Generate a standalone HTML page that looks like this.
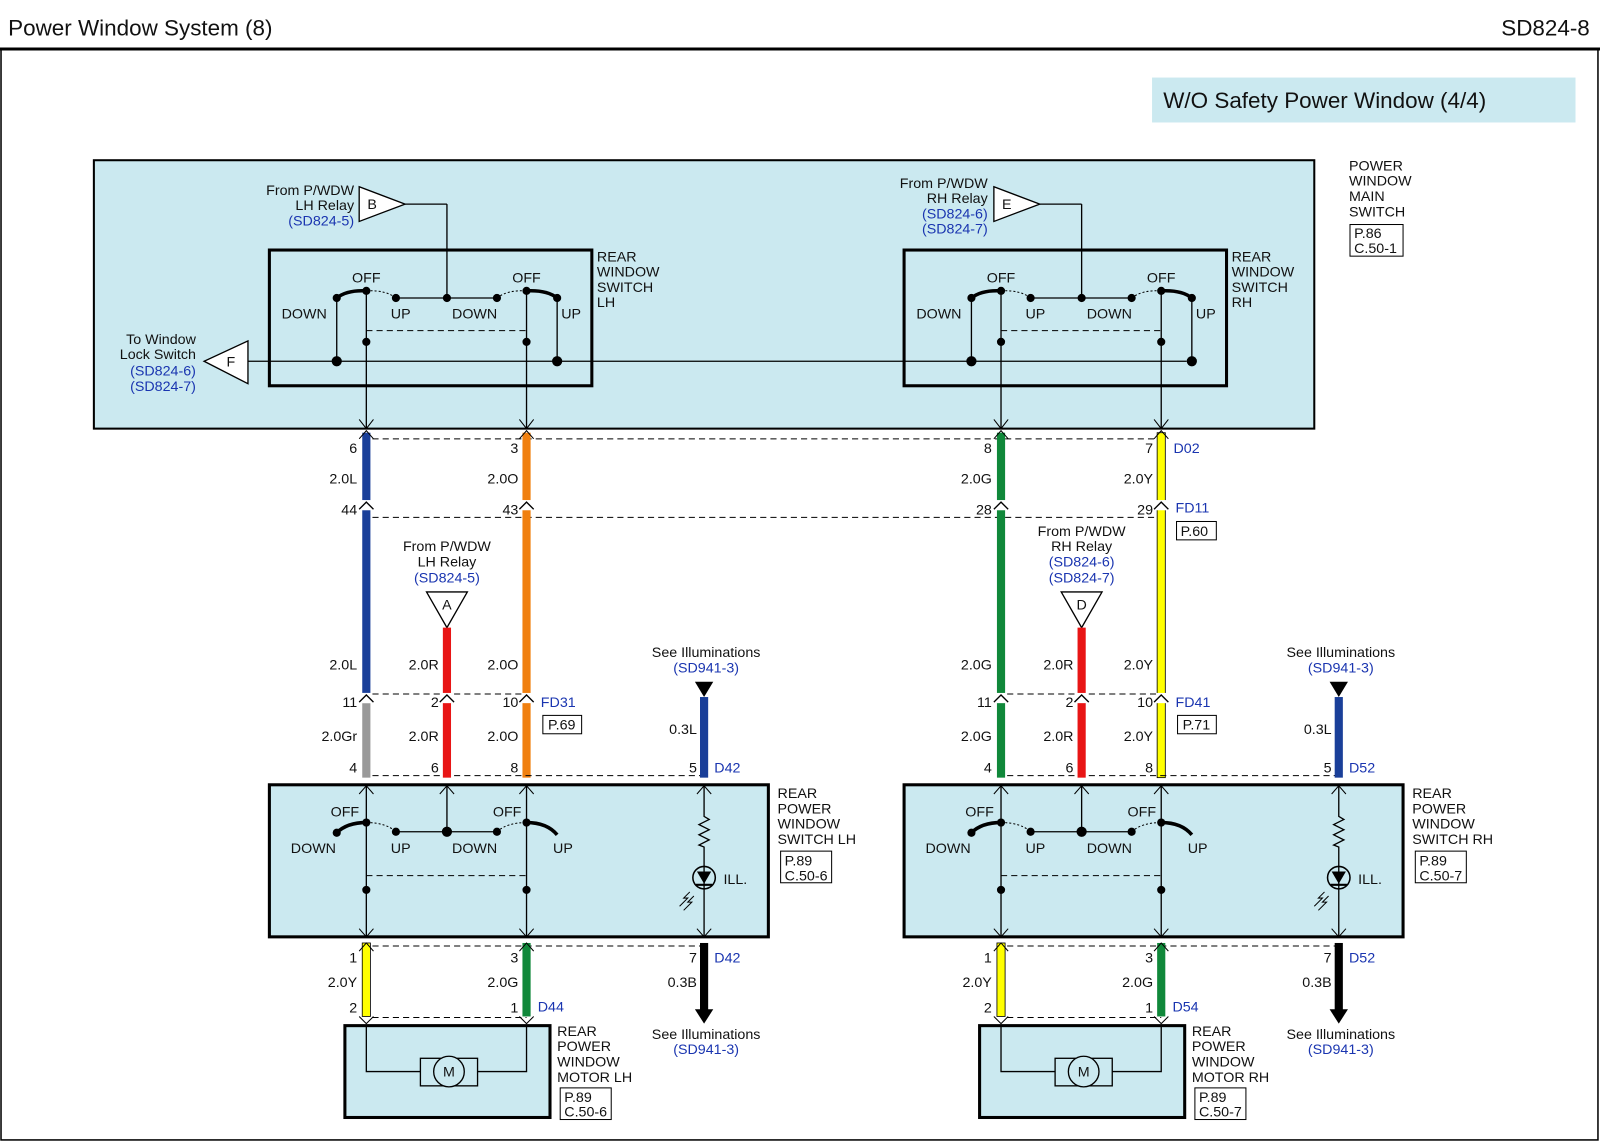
<!DOCTYPE html>
<html><head><meta charset="utf-8"><style>
html,body{margin:0;padding:0;background:#fff}
svg{display:block}
text{font-family:"Liberation Sans",sans-serif;font-size:14px;fill:#111}
.b{fill:#1a35b0}
.r{text-anchor:end}
.c{text-anchor:middle}
</style></head><body>
<svg width="1600" height="1143" viewBox="0 0 1568 1120" preserveAspectRatio="none" xmlns="http://www.w3.org/2000/svg">
<defs>
<g id="chev"><rect x="-5" y="-3" width="10" height="10" fill="#fff"/><polyline points="-7,6 0,-1 7,6" fill="none" stroke="#000" stroke-width="1.3"/></g>
<g id="common">
 <rect x="264" y="245" width="316" height="133" fill="none" stroke="#000" stroke-width="3"/>
 <line x1="438" y1="200" x2="438" y2="292" stroke="#000" stroke-width="1.3"/>
 <path d="M330,292 Q340,284 359,285" fill="none" stroke="#000" stroke-width="3.5"/>
 <path d="M546,292 Q536,284 516,285" fill="none" stroke="#000" stroke-width="3.5"/>
 <path d="M359,285 Q378,284 388,292 M487,292 Q497,284 516,285" fill="none" stroke="#000" stroke-dasharray="2,2"/>
 <line x1="388" y1="292" x2="487" y2="292" stroke="#000" stroke-width="1.3"/>
 <line x1="330" y1="292" x2="330" y2="354" stroke="#000" stroke-width="1.3"/>
 <line x1="546" y1="292" x2="546" y2="354" stroke="#000" stroke-width="1.3"/>
 <line x1="359" y1="324" x2="516" y2="324" stroke="#000" stroke-dasharray="6,4"/>
 <line x1="359" y1="285" x2="359" y2="420" stroke="#000" stroke-width="1.3"/>
 <line x1="516" y1="285" x2="516" y2="420" stroke="#000" stroke-width="1.3"/>
 <g fill="#000"><circle cx="330" cy="292" r="4"/><circle cx="359" cy="285" r="4"/><circle cx="388" cy="292" r="4"/><circle cx="438" cy="292" r="4"/><circle cx="487" cy="292" r="4"/><circle cx="516" cy="285" r="4"/><circle cx="546" cy="292" r="4"/><circle cx="330" cy="354" r="5"/><circle cx="546" cy="354" r="5"/><circle cx="359" cy="335" r="4"/><circle cx="516" cy="335" r="4"/></g>
 <polyline points="352,411 359,420 366,411" fill="none" stroke="#000"/><polyline points="509,411 516,420 523,411" fill="none" stroke="#000"/>
 <text x="345" y="277">OFF</text><text x="502" y="277">OFF</text>
 <text x="276" y="312">DOWN</text><text x="383" y="312">UP</text><text x="443" y="312">DOWN</text><text x="550" y="312">UP</text>
 <line x1="365" y1="680" x2="516" y2="680" stroke="#000" stroke-dasharray="6,4"/>
 <line x1="365" y1="760" x2="690" y2="760" stroke="#000" stroke-dasharray="6,4"/>
 <rect x="264" y="769" width="489" height="149" fill="#cbe9f0" stroke="#000" stroke-width="3"/>
 <path d="M330,816 Q340,806 359,806" fill="none" stroke="#000" stroke-width="3.5"/>
 <path d="M546,818 Q536,806 516,806" fill="none" stroke="#000" stroke-width="3.5"/>
 <path d="M359,806 Q378,806 388,815 M487,815 Q497,806 516,806" fill="none" stroke="#000" stroke-dasharray="2,2"/>
 <line x1="388" y1="815" x2="487" y2="815" stroke="#000" stroke-width="1.3"/>
 <line x1="438" y1="769" x2="438" y2="815" stroke="#000" stroke-width="1.3"/>
 <line x1="359" y1="858" x2="516" y2="858" stroke="#000" stroke-dasharray="6,4"/>
 <line x1="359" y1="769" x2="359" y2="918" stroke="#000" stroke-width="1.3"/>
 <line x1="516" y1="769" x2="516" y2="918" stroke="#000" stroke-width="1.3"/>
 <g fill="#000"><circle cx="330" cy="816" r="4"/><circle cx="359" cy="806" r="4"/><circle cx="388" cy="815" r="4"/><circle cx="438" cy="815" r="5"/><circle cx="487" cy="815" r="4"/><circle cx="516" cy="806" r="4"/><circle cx="359" cy="872" r="4"/><circle cx="516" cy="872" r="4"/></g>
 <text x="324" y="800">OFF</text><text x="483" y="800">OFF</text>
 <text x="285" y="836">DOWN</text><text x="383" y="836">UP</text><text x="443" y="836">DOWN</text><text x="542" y="836">UP</text>
 <g fill="none" stroke="#000"><polyline points="352,778 359,770 366,778"/><polyline points="431,778 438,770 445,778"/><polyline points="509,778 516,770 523,778"/><polyline points="683,778 690,770 697,778"/>
 <polyline points="352,910 359,918 366,910"/><polyline points="509,910 516,918 523,910"/><polyline points="683,910 690,918 697,910"/></g>
 <polyline points="690,769 690,800 695,803 685,808 695,813 685,818 695,823 685,828 690,830 690,918" fill="none" stroke="#000" stroke-width="1.3"/>
 <circle cx="690" cy="860" r="11" fill="none" stroke="#000" stroke-width="1.5"/>
 <polygon points="683,854 697,854 690,866" fill="#000"/><line x1="682" y1="867" x2="698" y2="867" stroke="#000" stroke-width="2"/>
 <text x="709" y="866">ILL.</text>
 <path d="M676,874 L670,880 L674,880 L666,888 M680,878 L674,884 L678,884 L670,892" fill="none" stroke="#000"/>
 <line x1="365" y1="927" x2="690" y2="927" stroke="#000" stroke-dasharray="6,4"/>
 <line x1="365" y1="997" x2="516" y2="997" stroke="#000" stroke-dasharray="6,4"/>
 <rect x="355" y="924" width="8" height="72" fill="#ffff00" stroke="#000" stroke-width="0.8"/>
 <rect x="512" y="924" width="8" height="72" fill="#10883a"/>
 <rect x="686" y="924" width="8" height="66" fill="#000"/>
 <polygon points="681,989 699,989 690,1003" fill="#000"/>
 <g fill="none" stroke="#000"><polyline points="352,932 359,924 366,932"/><polyline points="509,932 516,924 523,932"/><polyline points="352,996 359,1003 366,996"/><polyline points="509,996 516,1003 523,996"/></g>
 <rect x="338" y="1005" width="201" height="90" fill="#cbe9f0" stroke="#000" stroke-width="3"/>
 <polyline points="359,1005 359,1050 412,1050" fill="none" stroke="#000" stroke-width="1.3"/>
 <polyline points="468,1050 516,1050 516,1005" fill="none" stroke="#000" stroke-width="1.3"/>
 <rect x="412" y="1037" width="56" height="27" fill="none" stroke="#000" stroke-width="1.3"/>
 <circle cx="440" cy="1050" r="15" fill="#cbe9f0" stroke="#000" stroke-width="1.3"/>
 <text x="440" y="1055" class="c">M</text>
 <text x="692" y="644" class="c">See Illuminations</text><text x="692" y="659" class="c b">(SD941-3)</text>
 <polygon points="681,668 699,668 690,683" fill="#000"/>
 <rect x="686" y="683" width="8" height="79" fill="#1a3f99"/>
 <text x="683" y="719" class="r">0.3L</text>
 <text x="683" y="757" class="r">5</text>
 <text x="683" y="943" class="r">7</text><text x="683" y="967" class="r">0.3B</text>
 <text x="692" y="1018" class="c">See Illuminations</text><text x="692" y="1033" class="c b">(SD941-3)</text>
 <text x="350" y="943" class="r">1</text><text x="350" y="967" class="r">2.0Y</text><text x="350" y="992" class="r">2</text>
 <text x="508" y="943" class="r">3</text><text x="508" y="967" class="r">2.0G</text><text x="508" y="992" class="r">1</text>
 <text x="546" y="1015">REAR</text><text x="546" y="1030">POWER</text><text x="546" y="1045">WINDOW</text>
 <rect x="549" y="1066" width="50" height="31" fill="#fff" stroke="#000"/>
 <text x="762" y="782">REAR</text><text x="762" y="797">POWER</text><text x="762" y="812">WINDOW</text>
 <rect x="765" y="834" width="50" height="31" fill="#fff" stroke="#000"/>
 <text x="769" y="848">P.89</text>
 <text x="553" y="1080">P.89</text>
 <text x="585" y="256">REAR</text><text x="585" y="271">WINDOW</text><text x="585" y="286">SWITCH</text>
 <text x="430" y="656" class="r">2.0R</text>
 <text x="350" y="693" class="r">11</text><text x="430" y="693" class="r">2</text><text x="508" y="693" class="r">10</text>
 <text x="430" y="726" class="r">2.0R</text>
 <text x="350" y="757" class="r">4</text><text x="430" y="757" class="r">6</text><text x="508" y="757" class="r">8</text>
 <rect x="532" y="701" width="38" height="18" fill="#fff" stroke="#000"/>
 <polygon points="418,580 458,580 438,615" fill="#fff" stroke="#000" stroke-width="1.3"/>
 <rect x="434" y="615" width="8" height="147" fill="#e81515"/>
 <use href="#chev" x="438" y="682"/>
</g>
</defs>

<rect x="1" y="48" width="1565" height="1069" fill="none" stroke="#000" stroke-width="1.5"/>
<line x1="0" y1="48" x2="1568" y2="48" stroke="#000" stroke-width="3"/>
<text x="8" y="35" style="font-size:22px">Power Window System (8)</text>
<text x="1558" y="35" class="r" style="font-size:22px">SD824-8</text>
<rect x="1129" y="76" width="415" height="44" fill="#cbe9f0"/>
<text x="1140" y="106" style="font-size:22px">W/O Safety Power Window (4/4)</text>

<rect x="92" y="157" width="1196" height="263" fill="#cbe9f0" stroke="#000" stroke-width="2"/>
<line x1="243" y1="354" x2="1163" y2="354" stroke="#000" stroke-width="1.3"/>
<polygon points="243,334 243,376 200,354" fill="#fff" stroke="#000" stroke-width="1.3"/><text x="222" y="359">F</text>
<text x="192" y="337" class="r">To Window</text><text x="192" y="352" class="r">Lock Switch</text><text x="192" y="368" class="r b">(SD824-6)</text><text x="192" y="383" class="r b">(SD824-7)</text>
<polygon points="352,183 352,217 397,200" fill="#fff" stroke="#000" stroke-width="1.3"/><text x="360" y="205">B</text>
<line x1="397" y1="200" x2="438" y2="200" stroke="#000" stroke-width="1.3"/>
<text x="347" y="191" class="r">From P/WDW</text><text x="347" y="206" class="r">LH Relay</text><text x="347" y="221" class="r b">(SD824-5)</text>
<polygon points="974,183 974,217 1019,200" fill="#fff" stroke="#000" stroke-width="1.3"/><text x="982" y="205">E</text>
<line x1="1019" y1="200" x2="1060" y2="200" stroke="#000" stroke-width="1.3"/>
<text x="968" y="184" class="r">From P/WDW</text><text x="968" y="199" class="r">RH Relay</text><text x="968" y="214" class="r b">(SD824-6)</text><text x="968" y="229" class="r b">(SD824-7)</text>
<text x="1322" y="167">POWER</text><text x="1322" y="182">WINDOW</text><text x="1322" y="197">MAIN</text><text x="1322" y="212">SWITCH</text>
<rect x="1323" y="220" width="52" height="31" fill="#fff" stroke="#000"/><text x="1327" y="233">P.86</text><text x="1327" y="248">C.50-1</text>

<line x1="365" y1="430" x2="1138" y2="430" stroke="#000" stroke-dasharray="6,4"/>
<line x1="365" y1="507" x2="1138" y2="507" stroke="#000" stroke-dasharray="6,4"/>

<rect x="355" y="424" width="8" height="255" fill="#1a3f99"/>
<rect x="355" y="689" width="8" height="73" fill="#999"/>
<rect x="512" y="424" width="8" height="338" fill="#f08010"/>
<rect x="977" y="424" width="8" height="338" fill="#10883a"/>
<rect x="1134" y="424" width="8" height="338" fill="#ffff00" stroke="#000" stroke-width="0.8"/>
<use href="#chev" x="359" y="493"/><use href="#chev" x="516" y="493"/><use href="#chev" x="981" y="493"/><use href="#chev" x="1138" y="493"/>
<g fill="none" stroke="#000"><polyline points="352,430 359,422 366,430"/><polyline points="509,430 516,422 523,430"/><polyline points="974,430 981,422 988,430"/><polyline points="1131,430 1138,422 1145,430"/></g>

<use href="#common"/>
<use href="#common" x="622"/>
<use href="#chev" x="359" y="682"/><use href="#chev" x="516" y="682"/><use href="#chev" x="981" y="682"/><use href="#chev" x="1138" y="682"/>

<!-- LH -->
<text x="350" y="444" class="r">6</text><text x="350" y="474" class="r">2.0L</text><text x="350" y="504" class="r">44</text>
<text x="508" y="444" class="r">3</text><text x="508" y="474" class="r">2.0O</text><text x="508" y="504" class="r">43</text>
<text x="350" y="656" class="r">2.0L</text><text x="508" y="656" class="r">2.0O</text>
<text x="350" y="726" class="r">2.0Gr</text><text x="508" y="726" class="r">2.0O</text>
<text x="585" y="301">LH</text>
<text x="438" y="540" class="c">From P/WDW</text><text x="438" y="555" class="c">LH Relay</text><text x="438" y="571" class="c b">(SD824-5)</text>
<text x="438" y="597" class="c">A</text>
<text x="530" y="693" class="b">FD31</text><text x="537" y="715">P.69</text>
<text x="700" y="757" class="b">D42</text><text x="700" y="943" class="b">D42</text>
<text x="527" y="991" class="b">D44</text>
<text x="762" y="827">SWITCH LH</text><text x="769" y="863">C.50-6</text>
<text x="546" y="1060">MOTOR LH</text><text x="553" y="1094">C.50-6</text>

<!-- RH -->
<text x="972" y="444" class="r">8</text><text x="972" y="474" class="r">2.0G</text><text x="972" y="504" class="r">28</text>
<text x="1130" y="444" class="r">7</text><text x="1130" y="474" class="r">2.0Y</text><text x="1130" y="504" class="r">29</text>
<text x="972" y="656" class="r">2.0G</text><text x="1130" y="656" class="r">2.0Y</text>
<text x="972" y="726" class="r">2.0G</text><text x="1130" y="726" class="r">2.0Y</text>
<text x="1150" y="444" class="b">D02</text><text x="1152" y="502" class="b">FD11</text>
<rect x="1153" y="511" width="39" height="18" fill="#fff" stroke="#000"/><text x="1157" y="525">P.60</text>
<text x="1207" y="301">RH</text>
<text x="1060" y="525" class="c">From P/WDW</text><text x="1060" y="540" class="c">RH Relay</text><text x="1060" y="555" class="c b">(SD824-6)</text><text x="1060" y="571" class="c b">(SD824-7)</text>
<text x="1060" y="597" class="c">D</text>
<text x="1152" y="693" class="b">FD41</text><text x="1159" y="715">P.71</text>
<text x="1322" y="757" class="b">D52</text><text x="1322" y="943" class="b">D52</text>
<text x="1149" y="991" class="b">D54</text>
<text x="1384" y="827">SWITCH RH</text><text x="1391" y="863">C.50-7</text>
<text x="1168" y="1060">MOTOR RH</text><text x="1175" y="1094">C.50-7</text>
</svg>
</body></html>
